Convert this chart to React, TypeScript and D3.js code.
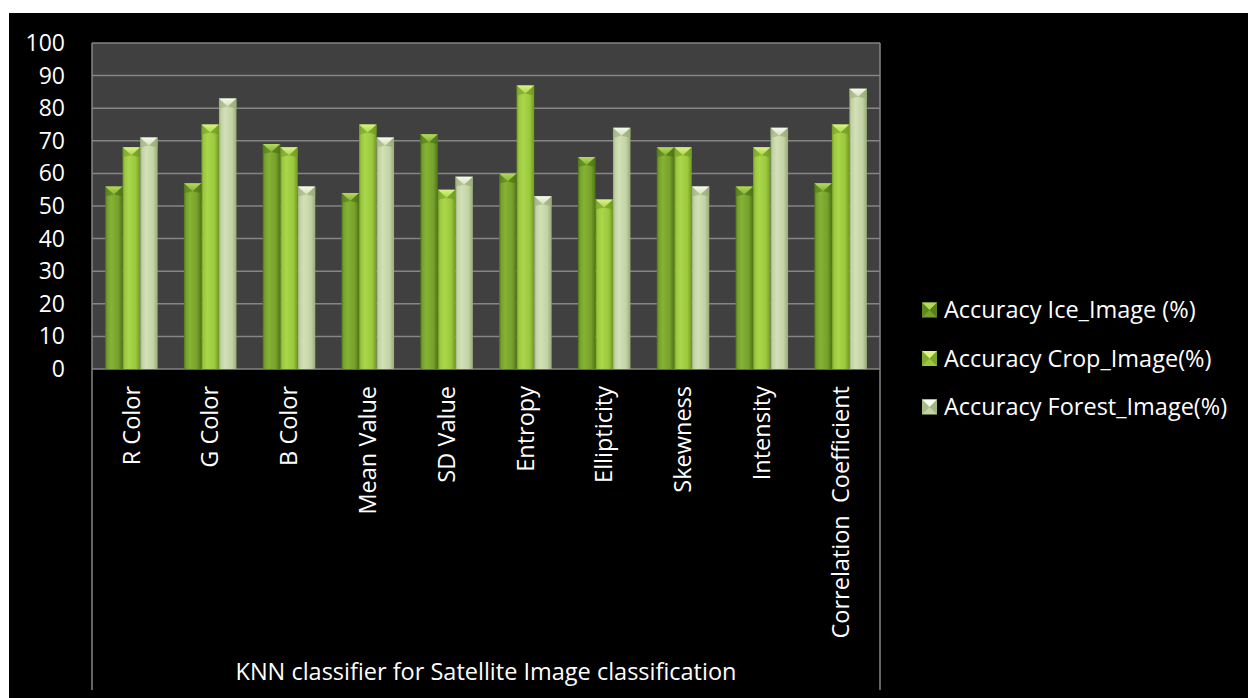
import React from "react";
import * as d3 from "d3";

const categories = [
  "R Color",
  "G Color",
  "B Color",
  "Mean Value",
  "SD Value",
  "Entropy",
  "Ellipticity",
  "Skewness",
  "Intensity",
  "Correlation  Coefficient",
];

const seriesNames = [
  "Accuracy Ice_Image (%)",
  "Accuracy Crop_Image(%)",
  "Accuracy Forest_Image(%)",
];

const iceValues = [56, 57, 69, 54, 72, 60, 65, 68, 56, 57];
const cropValues = [68, 75, 68, 75, 55, 87, 52, 68, 68, 75];
const forestValues = [71, 83, 56, 71, 59, 53, 74, 56, 74, 86];

const yTicks = [0, 10, 20, 30, 40, 50, 60, 70, 80, 90, 100];

const axisTitle = "KNN classifier for Satellite Image classification";

// colour sets per series: edge shade, body, highlight, cap
const palettes = [
  { edge: "#4f7417", body: "#76a12c", light: "#86b236", cap: "#b4da5c" },
  { edge: "#6f9a22", body: "#9cc83d", light: "#aad64c", cap: "#dcf28a" },
  { edge: "#98ab78", body: "#c3d3a4", light: "#d3e0b8", cap: "#f7faef" },
];

const W = 1248;
const H = 698;
const plot = { left: 92, right: 880, top: 43, bottom: 369 };
const FONT = "'Open Sans', Lato, sans-serif";
const FS = 23.5;

export default function App() {
  const series = [iceValues, cropValues, forestValues];

  const x = d3
    .scaleBand<string>()
    .domain(categories)
    .range([plot.left, plot.right])
    .paddingInner(1 / 3)
    .paddingOuter(1 / 6);

  const xInner = d3
    .scaleBand<number>()
    .domain([0, 1, 2])
    .range([0, x.bandwidth()]);

  const y = d3.scaleLinear().domain([0, 100]).range([plot.bottom, plot.top]);

  const bw = xInner.bandwidth();

  return (
    <div style={{ position: "absolute", left: 0, top: 0 }}>
      <svg width={W} height={H} style={{ display: "block" }}>
        <defs>
          {palettes.map((p, i) => (
            <linearGradient key={i} id={`barGrad${i}`} x1="0" x2="1" y1="0" y2="0">
              <stop offset="0" stopColor={p.edge} />
              <stop offset="0.12" stopColor={p.body} />
              <stop offset="0.35" stopColor={p.light} />
              <stop offset="0.75" stopColor={p.body} />
              <stop offset="1" stopColor={p.edge} />
            </linearGradient>
          ))}
          {palettes.map((p, i) => (
            <linearGradient key={`c${i}`} id={`capGrad${i}`} x1="0" x2="0" y1="0" y2="1">
              <stop offset="0" stopColor={p.cap} />
              <stop offset="1" stopColor={p.light} />
            </linearGradient>
          ))}
        </defs>

        <rect x={0} y={0} width={W} height={H} fill="#ffffff" />
        <rect x={9} y={13} width={W - 9} height={H - 13} fill="#000000" />

        {/* plot background */}
        <rect
          x={plot.left}
          y={plot.top}
          width={plot.right - plot.left}
          height={plot.bottom - plot.top}
          fill="#404040"
        />

        {/* gridlines */}
        {yTicks.map((t) => (
          <line
            key={t}
            x1={plot.left}
            x2={plot.right}
            y1={y(t)}
            y2={y(t)}
            stroke="#858585"
            strokeWidth={1.5}
          />
        ))}
        <line x1={plot.left} x2={plot.left} y1={plot.top} y2={690} stroke="#858585" strokeWidth={1.5} />
        <line x1={plot.right} x2={plot.right} y1={plot.top} y2={690} stroke="#858585" strokeWidth={1.5} />

        {/* y tick labels */}
        {yTicks.map((t) => (
          <text
            key={t}
            x={65}
            y={y(t)}
            dy="0.35em"
            textAnchor="end"
            fill="#ffffff"
            fontFamily={FONT}
            fontSize={23}
          >
            {t}
          </text>
        ))}

        {/* bars */}
        {categories.map((c, ci) =>
          series.map((vals, si) => {
            const bx = (x(c) ?? 0) + (xInner(si) ?? 0);
            const top = y(vals[ci]);
            const capH = 8;
            return (
              <g key={`${ci}-${si}`}>
                <rect
                  x={bx}
                  y={top}
                  width={bw}
                  height={plot.bottom - top}
                  fill={`url(#barGrad${si})`}
                />
                <path
                  d={`M${bx},${top}L${bx + bw},${top}L${bx + bw / 2},${top + capH}Z`}
                  fill={`url(#capGrad${si})`}
                />
                <path
                  d={`M${bx},${top}L${bx + bw / 2},${top + capH}L${bx},${top + capH + 2}Z`}
                  fill={palettes[si].edge}
                  opacity={0.55}
                />
                <path
                  d={`M${bx + bw},${top}L${bx + bw / 2},${top + capH}L${bx + bw},${top + capH + 2}Z`}
                  fill={palettes[si].edge}
                  opacity={0.7}
                />
              </g>
            );
          })
        )}

        {/* category labels */}
        {categories.map((c) => {
          const cx = (x(c) ?? 0) + x.bandwidth() / 2;
          return (
            <text
              key={c}
              transform={`translate(${cx},386) rotate(-90)`}
              textAnchor="end"
              dy="0.35em"
              fill="#ffffff"
              fontFamily={FONT}
              fontSize={FS}
              style={{ whiteSpace: "pre" }}
            >
              {c}
            </text>
          );
        })}

        {/* axis title */}
        <text
          x={(plot.left + plot.right) / 2}
          y={672}
          dy="0.35em"
          textAnchor="middle"
          fill="#ffffff"
          fontFamily={FONT}
          fontSize={FS}
        >
          {axisTitle}
        </text>

        {/* legend */}
        {seriesNames.map((name, i) => {
          const ly = 310 + i * 48.5;
          const mx = 922;
          const ms = 15;
          const p = palettes[i];
          return (
            <g key={name}>
              <rect x={mx} y={ly - ms / 2} width={ms} height={ms} fill={p.body} />
              <path
                d={`M${mx},${ly - ms / 2}L${mx + ms},${ly - ms / 2}L${mx + ms / 2},${ly}Z`}
                fill={p.cap}
              />
              <path
                d={`M${mx},${ly - ms / 2}L${mx + ms / 2},${ly}L${mx},${ly + ms / 2}Z`}
                fill={p.edge}
                opacity={0.6}
              />
              <path
                d={`M${mx + ms},${ly - ms / 2}L${mx + ms / 2},${ly}L${mx + ms},${ly + ms / 2}Z`}
                fill={p.edge}
                opacity={0.75}
              />
              <text
                x={944}
                y={ly}
                dy="0.35em"
                fill="#ffffff"
                fontFamily={FONT}
                fontSize={FS}
              >
                {name}
              </text>
            </g>
          );
        })}
      </svg>
    </div>
  );
}
